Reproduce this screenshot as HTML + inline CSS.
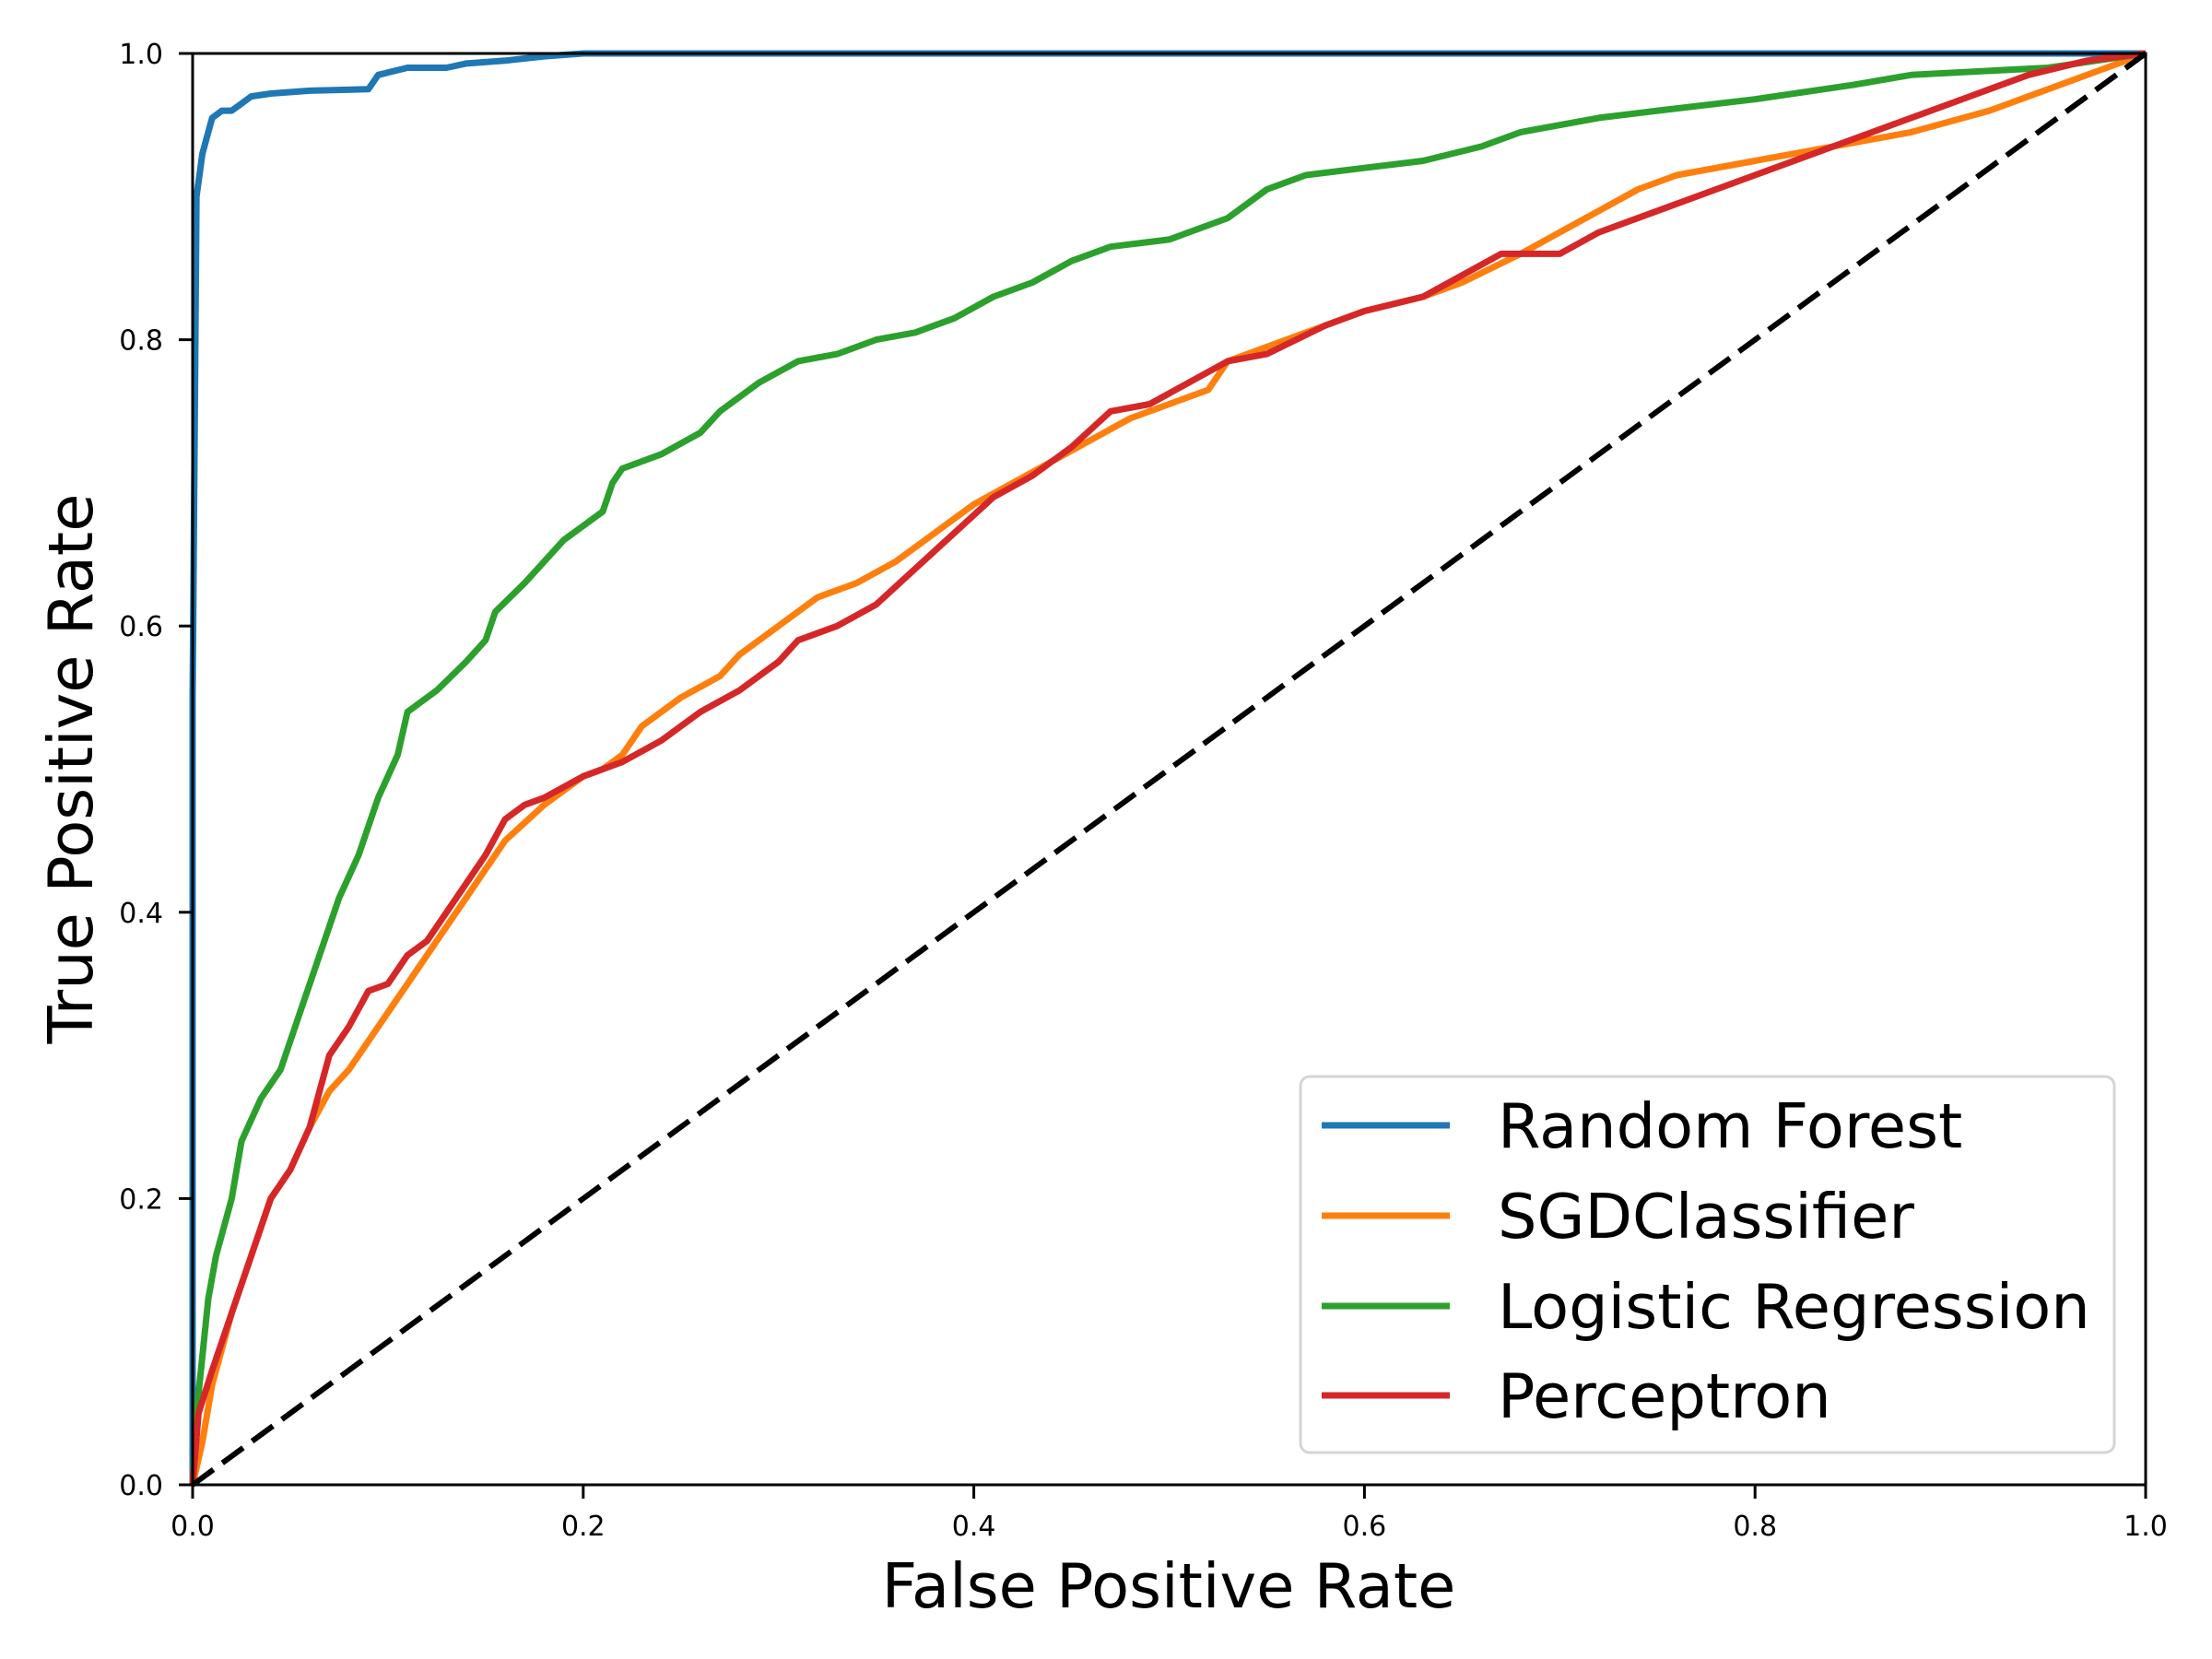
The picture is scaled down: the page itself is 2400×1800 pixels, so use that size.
<!DOCTYPE html>
<html><head><meta charset="utf-8">
<style>
html,body{margin:0;padding:0;background:#fff;}
svg{display:block;font-family:"DejaVu Sans","Liberation Sans",sans-serif;}
</style></head>
<body>
<svg id="chart" width="2400" height="1800" viewBox="0 0 2400 1800" xmlns="http://www.w3.org/2000/svg">
<rect x="0" y="0" width="2400" height="1800" fill="#fff"/>
<g id="plot"></g>
<g id="axes"></g>
<text x="1268" y="1744" font-size="67" text-anchor="middle">False Positive Rate</text>
<text x="0" y="0" font-size="67" text-anchor="middle" transform="translate(100,834) rotate(-90)">True Positive Rate</text>
<g id="legend"></g>
</svg>
<script>
const seriesNames = ["Random Forest","SGDClassifier","Logistic Regression","Perceptron"];
const seriesColors = ["#1f77b4","#ff7f0e","#2ca02c","#d62728"];
const xTicks = [0,0.2,0.4,0.6,0.8,1.0];
const yTicks = [0,0.2,0.4,0.6,0.8,1.0];
const tickLabels = ["0.0","0.2","0.4","0.6","0.8","1.0"];

const rfFpr = [0,0,0.002,0.005,0.01,0.015,0.02,0.025,0.03,0.04,0.06,0.09,0.095,0.11,0.13,0.14,0.16,0.18,0.2,1];
const rfTpr = [0,0.55,0.9,0.93,0.955,0.96,0.96,0.965,0.97,0.972,0.974,0.975,0.985,0.99,0.99,0.993,0.995,0.998,1,1];

const sgdFpr = [0,0.005,0.01,0.02,0.03,0.04,0.05,0.06,0.07,0.08,0.09,0.1,0.11,0.12,0.13,0.14,0.15,0.16,0.18,0.2,0.21,0.22,0.23,0.25,0.27,0.28,0.3,0.32,0.34,0.36,0.38,0.4,0.42,0.44,0.46,0.48,0.5,0.52,0.53,0.55,0.58,0.6,0.63,0.65,0.68,0.7,0.72,0.74,0.76,0.8,0.84,0.88,0.92,0.95,0.98,1];
const sgdTpr = [0,0.03,0.07,0.12,0.16,0.2,0.22,0.25,0.275,0.29,0.31,0.33,0.35,0.37,0.39,0.41,0.43,0.45,0.475,0.495,0.5,0.51,0.53,0.55,0.565,0.58,0.6,0.62,0.63,0.645,0.665,0.685,0.7,0.715,0.73,0.745,0.755,0.765,0.785,0.795,0.81,0.82,0.83,0.84,0.86,0.875,0.89,0.905,0.915,0.925,0.935,0.945,0.96,0.975,0.99,1];

const lrFpr = [0,0.002,0.008,0.012,0.02,0.025,0.035,0.045,0.055,0.065,0.075,0.085,0.095,0.105,0.11,0.125,0.14,0.15,0.155,0.17,0.19,0.21,0.215,0.22,0.24,0.26,0.27,0.29,0.31,0.33,0.35,0.37,0.39,0.41,0.43,0.45,0.47,0.5,0.53,0.55,0.57,0.6,0.63,0.66,0.68,0.72,0.75,0.8,0.85,0.88,0.95,1];
const lrTpr = [0,0.05,0.13,0.16,0.2,0.24,0.27,0.29,0.33,0.37,0.41,0.44,0.48,0.51,0.54,0.555,0.575,0.59,0.61,0.63,0.66,0.68,0.7,0.71,0.72,0.735,0.75,0.77,0.785,0.79,0.8,0.805,0.815,0.83,0.84,0.855,0.865,0.87,0.885,0.905,0.915,0.92,0.925,0.935,0.945,0.955,0.96,0.968,0.978,0.985,0.99,1];

const pFpr = [0,0.003,0.01,0.02,0.03,0.04,0.05,0.06,0.07,0.08,0.09,0.1,0.11,0.12,0.13,0.14,0.15,0.16,0.17,0.18,0.2,0.22,0.24,0.26,0.28,0.3,0.31,0.33,0.35,0.37,0.39,0.41,0.43,0.45,0.47,0.49,0.51,0.53,0.55,0.58,0.6,0.63,0.65,0.67,0.7,0.72,0.75,0.78,0.8,0.83,0.86,0.88,0.91,0.94,0.97,1];
const pTpr = [0,0.05,0.08,0.12,0.16,0.2,0.22,0.25,0.3,0.32,0.345,0.35,0.37,0.38,0.4,0.42,0.44,0.465,0.475,0.48,0.495,0.505,0.52,0.54,0.555,0.575,0.59,0.6,0.615,0.64,0.665,0.69,0.705,0.725,0.75,0.755,0.77,0.785,0.79,0.81,0.82,0.83,0.845,0.86,0.86,0.875,0.89,0.905,0.915,0.93,0.945,0.955,0.97,0.985,0.995,1];

const diagX = [0,1];
const diagY = [0,1];

const X0=209, X1=2328, Y0=1611, Y1=58;
function sx(v){return X0+(X1-X0)*v;}
function sy(v){return Y0-(Y0-Y1)*v;}
const NS="http://www.w3.org/2000/svg";
function mk(tag,attrs,parent){const e=document.createElementNS(NS,tag);for(const k in attrs)e.setAttribute(k,attrs[k]);parent.appendChild(e);return e;}

const plot=document.getElementById('plot');
const allX=[rfFpr,sgdFpr,lrFpr,pFpr], allY=[rfTpr,sgdTpr,lrTpr,pTpr];
const curveNames=["random-forest-curve","sgd-classifier-curve","logistic-regression-curve","perceptron-curve"];
for(let i=0;i<4;i++){
  const pts=allX[i].map((x,j)=>sx(x).toFixed(1)+','+sy(allY[i][j]).toFixed(1)).join(' ');
  const pl=mk('polyline',{points:pts,fill:'none',stroke:seriesColors[i],'stroke-width':7,'stroke-linejoin':'round'},plot);
  
  
}
const dg=mk('line',{x1:sx(diagX[0]),y1:sy(diagY[0]),x2:sx(diagX[1]),y2:sy(diagY[1]),stroke:'#000','stroke-width':6,'stroke-dasharray':'28 12'},plot);



const axes=document.getElementById('axes');
const fr=mk('rect',{x:X0,y:Y1,width:X1-X0,height:Y0-Y1,fill:'none',stroke:'#000','stroke-width':3},axes);


xTicks.forEach((v,i)=>{
  const t=mk('line',{x1:sx(v),y1:Y0,x2:sx(v),y2:Y0+15,stroke:'#000','stroke-width':3},axes);
  
  
  const l=mk('text',{x:sx(v),y:1666,'font-size':30,'text-anchor':'middle'},axes);
  l.textContent=tickLabels[i];
  
  
});
yTicks.forEach((v,i)=>{
  const t=mk('line',{x1:X0-15,y1:sy(v),x2:X0,y2:sy(v),stroke:'#000','stroke-width':3},axes);
  
  
  const l=mk('text',{x:177,y:sy(v)+11,'font-size':30,'text-anchor':'end'},axes);
  l.textContent=tickLabels[i];
  
  
});

const lg=document.getElementById('legend');
const box=mk('rect',{x:1411,y:1168,width:883,height:408,rx:10,fill:'#fff','fill-opacity':0.8,stroke:'#d5d5d5','stroke-width':3},lg);


const rowY=[1221,1319,1417,1514];
seriesNames.forEach((n,i)=>{
  const ln=mk('line',{x1:1434,y1:rowY[i],x2:1573,y2:rowY[i],stroke:seriesColors[i],'stroke-width':7},lg);
  
  
  const tx=mk('text',{x:1625,y:rowY[i]+24,'font-size':67},lg);
  tx.textContent=n;
  
  
});
</script>
</body></html>
